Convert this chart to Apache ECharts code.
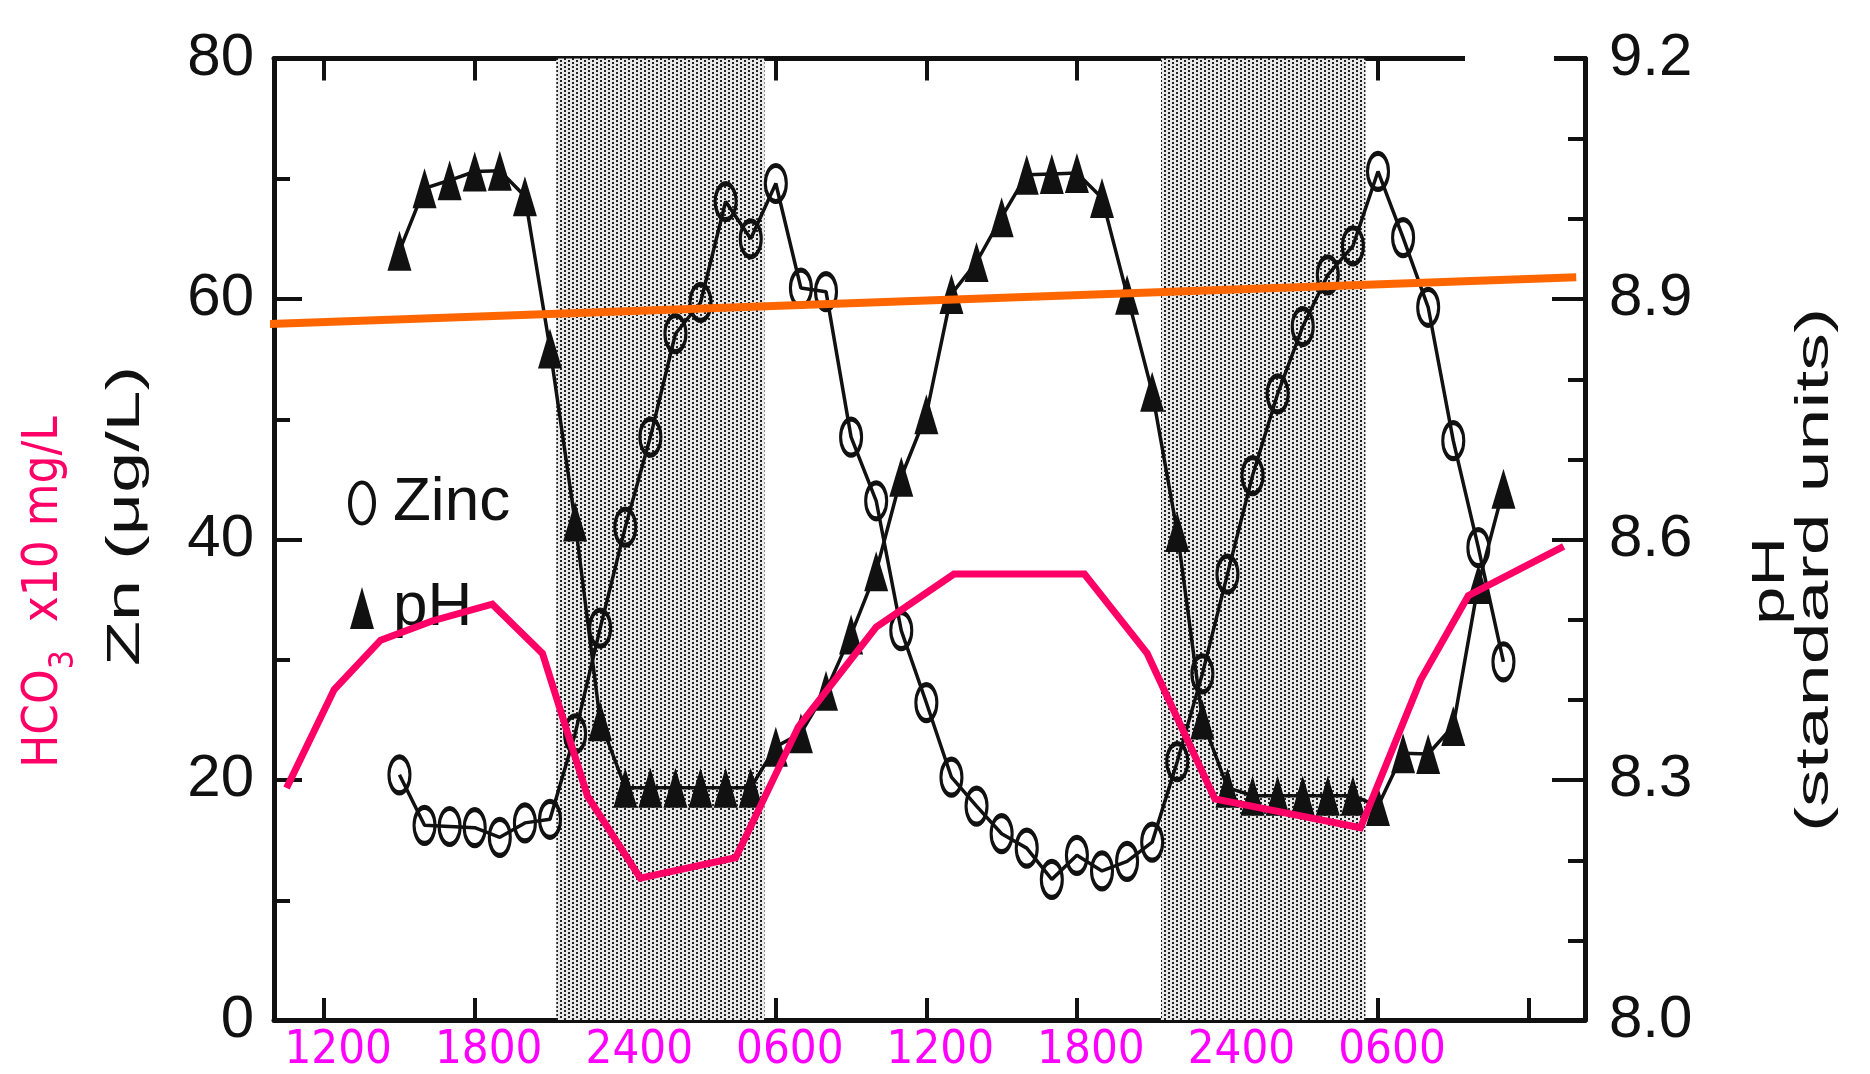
<!DOCTYPE html>
<html>
<head>
<meta charset="utf-8">
<script src="https://cdn.jsdelivr.net/npm/echarts@6.0.0/dist/echarts.min.js"></script>
<style>
html,body{margin:0;padding:0;background:#fff;}
#chart{width:1870px;height:1074px;}
</style>
</head>
<body>
<div id="chart"></div>
<script>
// ---------------- data (time = hours from midnight of day 1) ----------------
const hours = [15,16,17,18,19,20,21,22,23,24,25,26,27,28,29,30,31,32,33,34,35,36,37,38,39,40,41,42,43,44,45,46,47,48,49,50,51,52,53,54,55,56,57,58,59];
const zinc = [20.4,16.2,16.1,16.0,15.2,16.4,16.7,23.8,32.6,41.0,48.5,57.1,59.7,68.1,65.0,69.6,60.9,60.6,48.5,43.2,32.4,26.4,20.2,17.8,15.5,14.3,11.7,13.7,12.4,13.2,14.8,21.5,28.8,37.1,45.3,52.1,57.7,62.0,64.4,70.6,65.1,59.3,48.2,39.3,29.8];
const ph = [8.960,9.038,9.048,9.059,9.060,9.028,8.838,8.622,8.373,8.29,8.29,8.29,8.29,8.29,8.29,8.341,8.358,8.411,8.481,8.560,8.678,8.756,8.906,8.946,9.002,9.055,9.056,9.057,9.026,8.905,8.784,8.609,8.375,8.29,8.28,8.28,8.28,8.28,8.28,8.267,8.333,8.332,8.367,8.544,8.663];
const hco3Hours = [10.5,12.4,14.25,16.3,18.7,20.7,22.5,24.6,28.4,30.9,34.0,37.1,42.3,44.8,47.5,53.3,55.7,57.6,61.4];
const hco3 = [19.3,27.5,31.6,33.2,34.6,30.5,18.6,11.8,13.5,24.4,32.7,37.1,37.1,30.5,18.4,16.0,28.3,35.3,39.4];
const refLineHours = [9.6, 61.9];
const refLine = [57.9, 61.8];
const nightStart = [21.25, 45.35];
const nightEnd = [29.55, 53.5];

const xTickHours = [12,18,24,30,36,42,48,54];
const xTickLabels = ['1200','1800','2400','0600','1200','1800','2400','0600'];
const xShortTicksBottom = [12,18,30,36,42,54,60];
const xShortTicksTop = [12,18,30,36,42,54];
const xLongTicks = [24,48];
const znTicks = [0,20,40,60,80];
const znMinorTicks = [10,30,50,70];
const phTicks = [8.0,8.3,8.6,8.9,9.2];
const phMinorTicks = [8.1,8.2,8.4,8.5,8.7,8.8,9.0,9.1];

// ---------------- styling ----------------
const INK = '#111';
const BLACKFONT = "'Liberation Sans',Arial,sans-serif";
const MAGFONT = "'DejaVu Sans Condensed','DejaVu Sans',sans-serif";
const ELLIPSE = 'path://M10.5,0A10.5,18,0,1,1,10.5,36A10.5,18,0,1,1,10.5,0Z';

// stipple pattern for night bands
const pc = document.createElement('canvas');
pc.width = 8; pc.height = 4;
const pctx = pc.getContext('2d');
pctx.fillStyle = '#e8e8e8'; pctx.fillRect(0,0,8,4);
pctx.fillStyle = '#222'; pctx.fillRect(0,0,2,2); pctx.fillRect(4,2,2,2);

const XMIN = 10, XMAX = 62.25;
function xAx(grid, pos, extra){
  return Object.assign({
    gridIndex: grid, type:'value', position: pos, min: XMIN, max: XMAX,
    axisLine:{show:false, onZero:false},
    axisLabel:{show:false}, splitLine:{show:false}
  }, extra);
}

const chart = echarts.init(document.getElementById('chart'));
chart.setOption({
  animation:false,
  backgroundColor:'#fff',
  grid:[
    {left:274, right:285, top:58.5, bottom:53},
    {left:274, right:285, top:58.5, bottom:53}
  ],
  xAxis:[
    xAx(0,'bottom',{
      axisLine:{show:true,onZero:false,lineStyle:{color:INK,width:5}},
      axisTick:{show:true,inside:true,length:22,customValues:xShortTicksBottom,lineStyle:{color:INK,width:4}},
      axisLabel:{show:true,customValues:xTickHours,
        formatter:function(v){const i=xTickHours.indexOf(v);return i<0?'':xTickLabels[i];},
        color:'#ff00ff',fontSize:47,fontFamily:MAGFONT,margin:7,padding:[0,0,0,28]}
    }),
    xAx(0,'top',{
      axisLine:{show:true,onZero:false,lineStyle:{color:INK,width:5}},
      axisTick:{show:true,inside:true,length:22,customValues:xShortTicksTop,lineStyle:{color:INK,width:4}}
    }),
    xAx(1,'bottom',{
      axisTick:{show:true,inside:true,length:48,customValues:xLongTicks,lineStyle:{color:INK,width:4}}
    }),
    xAx(1,'top',{
      axisTick:{show:true,inside:true,length:48,customValues:xLongTicks,lineStyle:{color:INK,width:4}}
    })
  ],
  yAxis:[
    {gridIndex:0,type:'value',position:'left',min:0,max:80,interval:20,
      axisLine:{show:true,onZero:false,lineStyle:{color:INK,width:5}},
      axisTick:{show:true,inside:true,length:28,customValues:znTicks,lineStyle:{color:INK,width:4}},
      axisLabel:{show:true,customValues:znTicks,color:INK,fontSize:60,fontFamily:BLACKFONT,margin:20},
      splitLine:{show:false}},
    {gridIndex:0,type:'value',position:'right',min:8.0,max:9.2,
      axisLine:{show:true,onZero:false,lineStyle:{color:INK,width:5}},
      axisTick:{show:true,inside:true,length:33,customValues:phTicks,lineStyle:{color:INK,width:4}},
      axisLabel:{show:true,customValues:phTicks,formatter:function(v){return v.toFixed(1);},
        color:INK,fontSize:60,fontFamily:BLACKFONT,margin:24},
      splitLine:{show:false}},
    {gridIndex:1,type:'value',position:'left',min:0,max:80,
      axisLine:{show:false},axisLabel:{show:false},splitLine:{show:false},
      axisTick:{show:true,inside:true,length:16,customValues:znMinorTicks,lineStyle:{color:INK,width:4}}},
    {gridIndex:1,type:'value',position:'right',min:8.0,max:9.2,
      axisLine:{show:false},axisLabel:{show:false},splitLine:{show:false},
      axisTick:{show:true,inside:true,length:17,customValues:phMinorTicks,lineStyle:{color:INK,width:4}}}
  ],
  legend:{
    orient:'vertical', left:343, top:467, itemWidth:24, itemHeight:42, itemGap:43,
    selectedMode:false,
    textStyle:{fontSize:62,fontFamily:BLACKFONT,color:INK,padding:[0,0,0,14]},
    data:[
      {name:'Zinc',icon:ELLIPSE,itemStyle:{color:'rgba(0,0,0,0)',borderColor:INK,borderWidth:4}},
      {name:'pH',icon:'triangle',itemStyle:{color:INK,borderWidth:0}}
    ]
  },
  series:[
    {name:'Zinc',type:'line',xAxisIndex:0,yAxisIndex:0,z:3,
      data:hours.map(function(h,i){return [h,zinc[i]];}),
      symbol:ELLIPSE,symbolSize:[21,36],
      itemStyle:{color:'rgba(0,0,0,0)',borderColor:INK,borderWidth:4},
      lineStyle:{color:INK,width:3.5},
      markArea:{silent:true,itemStyle:{color:{image:pc,repeat:'repeat'}},
        data:nightStart.map(function(s,i){return [{xAxis:s},{xAxis:nightEnd[i]}];})}
    },
    {name:'pH',type:'line',xAxisIndex:0,yAxisIndex:1,z:3,
      data:hours.map(function(h,i){return [h,ph[i]];}),
      symbol:'triangle',symbolSize:[24,40],
      itemStyle:{color:INK},
      lineStyle:{color:INK,width:3.5}
    },
    {name:'HCO3',type:'line',xAxisIndex:0,yAxisIndex:0,z:5,
      data:hco3Hours.map(function(h,i){return [h,hco3[i]];}),
      symbol:'none',lineStyle:{color:'#ff0066',width:7,join:'miter'}
    },
    {name:'Reference',type:'line',xAxisIndex:0,yAxisIndex:0,z:6,clip:false,
      data:refLineHours.map(function(h,i){return [h,refLine[i]];}),
      symbol:'none',lineStyle:{color:'#ff6600',width:8}
    }
  ],
  graphic:{elements:[
    {type:'text',x:126,y:516,rotation:Math.PI/2,scaleX:1.6,z:50,
      style:{text:'Zn (\u03bcg/L)',fontSize:46,fontFamily:BLACKFONT,fill:INK,align:'center',verticalAlign:'middle'}},
    {type:'text',x:1771,y:581,rotation:Math.PI/2,scaleX:1.5,z:50,
      style:{text:'pH',fontSize:46,fontFamily:BLACKFONT,fill:INK,align:'center',verticalAlign:'middle'}},
    {type:'text',x:1815,y:570,rotation:Math.PI/2,scaleX:1.64,z:50,
      style:{text:'(standard units)',fontSize:46,fontFamily:BLACKFONT,fill:INK,align:'center',verticalAlign:'middle'}},
    {type:'text',x:44,y:592,rotation:Math.PI/2,scaleX:0.88,z:50,
      style:{text:'{a|HCO}{s|3}{a|  x10 mg/L}',align:'center',verticalAlign:'middle',
        rich:{
          a:{fontSize:50,fontFamily:"'DejaVu Sans',sans-serif",fill:'#ff0066',lineHeight:50,verticalAlign:'top'},
          s:{fontSize:34,fontFamily:"'DejaVu Sans',sans-serif",fill:'#ff0066',lineHeight:34,verticalAlign:'top',padding:[28,0,0,0]}
        }}},
    {type:'rect',z:100,shape:{x:1465,y:50,width:89,height:17},style:{fill:'#fff'}}
  ]}
});
</script>
</body>
</html>
